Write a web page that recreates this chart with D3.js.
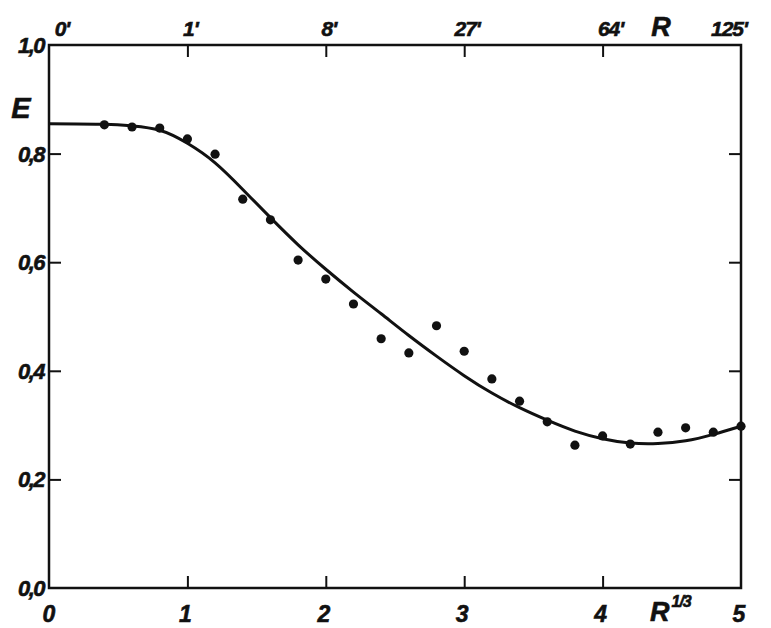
<!DOCTYPE html>
<html><head><meta charset="utf-8">
<script src="https://cdn.jsdelivr.net/npm/d3@7"></script>
<style>
body{margin:0;background:#fff;}
text{font-family:"Liberation Sans Narrow","Liberation Sans","DejaVu Sans",sans-serif;font-weight:bold;font-style:italic;fill:#111;stroke:#111;stroke-width:0.6;}
</style></head>
<body><svg id="chart" width="771" height="628"></svg>
<script>
// Data
const pointX = [0.4,0.6,0.8,1.0,1.2,1.4,1.6,1.8,2.0,2.2,2.4,2.6,2.8,3.0,3.2,3.4,3.6,3.8,4.0,4.2,4.4,4.6,4.8,5.0];
const pointE = [0.853,0.849,0.847,0.827,0.799,0.716,0.678,0.604,0.569,0.523,0.459,0.433,0.483,0.436,0.385,0.344,0.306,0.263,0.280,0.265,0.287,0.295,0.287,0.298];
const curveX = [0,0.4,0.6,0.8,1.0,1.2,1.4,1.6,1.8,2.0,2.2,2.4,2.6,2.8,3.0,3.2,3.4,3.6,3.8,4.0,4.2,4.4,4.6,4.8,5.0];
const curveE = [0.855,0.854,0.851,0.843,0.819,0.783,0.734,0.682,0.632,0.587,0.545,0.505,0.465,0.427,0.391,0.359,0.332,0.309,0.289,0.275,0.267,0.266,0.271,0.283,0.298];
const bottomTicks = [0,1,2,3,4,5];
const bottomLabels = ["0","1","2","3","4","5"];
const topLabels = ["0'","1'","8'","27'","64'","125'"];
const yTicks = [0,0.2,0.4,0.6,0.8,1.0];
const yLabels = ["0,0","0,2","0,4","0,6","0,8","1,0"];

const svg = d3.select("#chart");
const x = d3.scaleLinear().domain([0,5]).range([49,741]);
const y = d3.scaleLinear().domain([0,1]).range([588,45]);

// frame
svg.append("rect").attr("x",x(0)).attr("y",y(1)).attr("width",x(5)-x(0)).attr("height",y(0)-y(1))
  .attr("fill","none").attr("stroke","#111").attr("stroke-width",2.5);

function ticks(axis, tx, ty){
  svg.append("g").attr("transform",`translate(${tx},${ty})`).call(axis)
    .call(g=>g.select(".domain").remove()).selectAll("line").attr("stroke","#111").attr("stroke-width",2);
}
ticks(d3.axisTop(x).tickValues([1,2,3,4]).tickSize(12).tickFormat(""),0,y(0));
ticks(d3.axisBottom(x).tickValues([1,2,3,4]).tickSize(12).tickFormat(""),0,y(1));
ticks(d3.axisRight(y).tickValues([0.2,0.4,0.6,0.8]).tickSize(12).tickFormat(""),x(0),0);
ticks(d3.axisLeft(y).tickValues([0.2,0.4,0.6,0.8]).tickSize(12).tickFormat(""),x(5),0);

// y labels
svg.append("g").selectAll("text").data(yTicks).join("text")
  .attr("x",x(0)-5).attr("y",d=>y(d)+8).attr("text-anchor","end")
  .attr("font-size",22).attr("letter-spacing",-1.5).text((d,i)=>yLabels[i]);

// bottom labels
svg.append("g").selectAll("text").data(bottomTicks).join("text")
  .attr("x",d=>x(d)-(d===0?0:2)).attr("y",y(0)+34).attr("text-anchor","middle")
  .attr("font-size",23).text((d,i)=>bottomLabels[i]);

// top labels
svg.append("g").selectAll("text").data(bottomTicks).join("text")
  .attr("x",d=>x(d)+(d===5?-12:(d===4?8:(d===0?13:3)))).attr("y",y(1)-9).attr("text-anchor","middle")
  .attr("font-size",21).attr("letter-spacing",-1).text((d,i)=>topLabels[i]);

// axis titles
svg.append("text").attr("x",661).attr("y",36).attr("text-anchor","middle")
  .attr("font-size",27).attr("font-weight","normal").attr("stroke-width",0.3).text("R");
svg.append("text").attr("x",21).attr("y",118).attr("text-anchor","middle")
  .attr("font-size",29).attr("font-weight","normal").attr("stroke-width",0.3).text("E");
const rt = svg.append("text").attr("x",650).attr("y",621).attr("font-size",27).attr("font-weight","normal").attr("stroke-width",0.3);
rt.append("tspan").text("R");
rt.append("tspan").attr("dx",2).attr("dy",-14).attr("font-size",16).attr("font-weight","bold").attr("letter-spacing",-1).text("1/3");

// curve
const line = d3.line().x(d=>x(d[0])).y(d=>y(d[1])).curve(d3.curveNatural);
svg.append("path").datum(curveX.map((v,i)=>[v,curveE[i]])).attr("d",line)
  .attr("fill","none").attr("stroke","#111").attr("stroke-width",3);

// points
svg.append("g").selectAll("circle").data(pointX.map((v,i)=>[v,pointE[i]])).join("circle")
  .attr("cx",d=>x(d[0])).attr("cy",d=>y(d[1])).attr("r",4.6).attr("fill","#111");
</script></body></html>
